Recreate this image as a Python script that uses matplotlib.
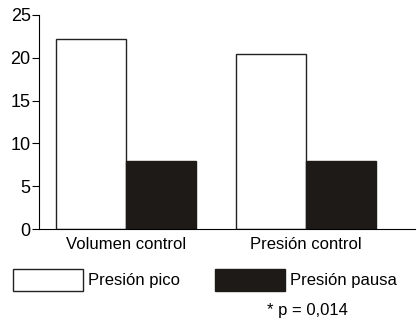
import matplotlib
matplotlib.use("Agg")
import numpy as np
import matplotlib.pyplot as plt
from matplotlib.patches import Patch

# values
groups = ["Volumen control", "Presión control"]
series_names = ["Presión pico", "Presión pausa"]
pico = [22.2, 20.4]
pausa = [7.9, 7.9]
y_ticks = [0, 5, 10, 15, 20, 25]
note = "* p = 0,014"

plt.rcParams['font.family'] = ['Liberation Sans', 'DejaVu Sans']

W, H = 417, 335
fig = plt.figure(figsize=(W / 100, H / 100), dpi=100)
ax = fig.add_axes([39 / W, (H - 229) / H, (415 - 39) / W, 214 / H])

x = np.arange(len(groups))
width = 0.389
ax.bar(x - width / 2, pico, width, color="white", edgecolor="#222222", linewidth=1.0)
ax.bar(x + width / 2, pausa, width, color="#1e1a18", edgecolor="#1e1a18", linewidth=1.0)

ax.set_xlim(-0.483, 1.606)
ax.set_ylim(0, 25)
ax.set_yticks(y_ticks)
ax.set_yticklabels([str(t) for t in y_ticks], fontsize=13)
ax.set_xticks(x)
ax.set_xticklabels(groups, fontsize=12)
ax.tick_params(axis="x", length=0, pad=6)
ax.tick_params(axis="y", length=5, width=0.8, pad=1)

for s in ["top", "right"]:
    ax.spines[s].set_visible(False)
for s in ["left", "bottom"]:
    ax.spines[s].set_linewidth(0.8)

fs = 12
handles = [Patch(facecolor="white", edgecolor="#222222", linewidth=1.0),
           Patch(facecolor="#1e1a18", edgecolor="#1e1a18")]
fig.legend(handles, series_names, loc="upper left",
           bbox_to_anchor=(13 / W, 1 - 269 / H), bbox_transform=fig.transFigure,
           ncol=2, frameon=False, fontsize=fs, borderpad=0, borderaxespad=0,
           handlelength=70 / (fs * 100 / 72), handleheight=27 / (fs * 100 / 72),
           handletextpad=0.3, columnspacing=2.1)

fig.text(307 / W, 1 - 310 / H, note, ha="center", va="center", fontsize=12)

fig.savefig("out.png", dpi=100)
